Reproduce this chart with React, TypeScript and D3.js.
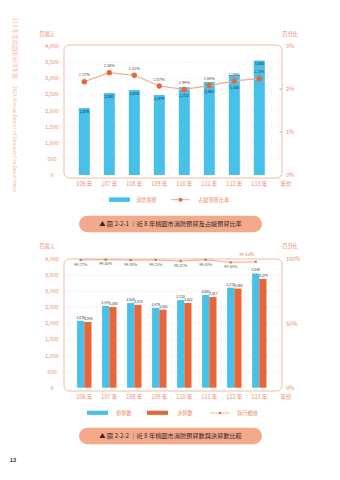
import React from "react";
import * as d3 from "d3";

const years = ["106 年", "107 年", "108 年", "109 年", "110 年", "111 年", "112 年", "113 年"];
const budget1 = [2076, 2541, 2634, 2479, 2722, 2883, 3100, 3550];
const share = [2.17, 2.38, 2.32, 2.07, 1.99, 2.08, 2.19, 2.24];
const budget2 = [2076, 2541, 2634, 2479, 2722, 2883, 3110, 3550];
const finals = [2042, 2508, 2570, 2425, 2632, 2817, 3080, 3379];
const execRate = [99.27, 99.5, 99.08, 99.23, 98.42, 99.43, 97.4, 97.82];
const leftTicks = [0, 500, 1000, 1500, 2000, 2500, 3000, 3500, 4000];
const gridTicks = [500, 1000, 1500, 2000, 2500, 3000, 3500];
const rightTicks1 = [0, 1, 2, 3];
const rightTicks2 = [0, 50, 100];

const FONT = "'Noto Sans CJK TC', 'Noto Sans', sans-serif";
const BLUE = "#47c1ea";
const ORANGE = "#e8673a";
const SALMON = "#ec8a6d";
const FRAME = "#f7b9a1";
const PILL = "#f4a98a";

const fmt = d3.format(",");

function Frame({ y0, y1 }: { y0: number; y1: number }) {
  return <rect x={64} y={y0} width={218} height={y1 - y0} rx={5} fill="none" stroke={FRAME} strokeWidth={1} />;
}

export default function App() {
  const x = d3.scaleBand().domain(years).range([71.8, 271.8]).padding(0);
  const cx = (d: string) => (x(d) as number) + x.bandwidth() / 2;

  // chart 1
  const y1 = d3.scaleLinear().domain([0, 4000]).range([175, 46]);
  const p1 = d3.scaleLinear().domain([0, 3]).range([175, 46]);
  const line1 = d3.line<number>().x((_, i) => cx(years[i])).y((d) => p1(d));
  const bw1 = 11;

  // chart 2
  const y2 = d3.scaleLinear().domain([0, 4000]).range([387.7, 259]);
  const p2 = d3.scaleLinear().domain([0, 100]).range([388, 259]);
  const bw2 = 7.2;
  const line2 = d3.line<number>().x((_, i) => cx(years[i]) - bw2 / 2).y((d) => p2(d));

  return (
    <svg width={340} height={480} style={{ position: "absolute", left: 0, top: 0, background: "#fff", fontFamily: FONT }} fontFamily={FONT}>
      <rect width={340} height={480} fill="#fff" />
      {/* side text */}
      <g transform="translate(12.5,18) rotate(90)" fill="#f6b8a2" fontFamily={FONT}>
        <text x={0} y={0} fontSize={5.6} fontFamily={FONT}>113 年度桃園市消防年報</text>
        <text x={68} y={0} fontSize={4.7} fontFamily="'Noto Sans', sans-serif">2024 Annual Report of Taoyuan Fire Department</text>
      </g>

      {/* ===== Chart 1 ===== */}
      <text x={47} y={36} fontSize={5.2} fill={SALMON} textAnchor="middle">百萬元</text>
      <text x={290} y={36} fontSize={5.2} fill={SALMON} textAnchor="middle">百分比</text>
      {gridTicks.map((t) => (
        <line key={"g1" + t} x1={66} x2={280} y1={y1(t)} y2={y1(t)} stroke="#c9c9c9" strokeWidth={0.7} strokeDasharray="0.8,3" />
      ))}
      <Frame y0={45} y1={178} />
      {leftTicks.map((t) => (
        <text key={"l1" + t} x={52} y={y1(t) + 2} fontSize={5.6} fill={SALMON} textAnchor="middle">{fmt(t)}</text>
      ))}
      {rightTicks1.map((t) => (
        <text key={"r1" + t} x={286} y={p1(t) + 2} fontSize={5.6} fill={SALMON}>{t}%</text>
      ))}
      {[1, 2].map((t) => (
        <line key={"bt" + t} x1={279.5} x2={282} y1={p1(t)} y2={p1(t)} stroke={BLUE} strokeWidth={0.8} />
      ))}
      {budget1.map((v, i) => (
        <rect key={"b1" + i} x={cx(years[i]) - bw1 / 2} y={y1(v)} width={bw1} height={y1(0) - y1(v)} fill={BLUE} />
      ))}
      <path d={line1(share) || ""} fill="none" stroke="#f3a88c" strokeWidth={1.2} />
      {share.map((v, i) => (
        <circle key={"c1" + i} cx={cx(years[i])} cy={p1(v)} r={2.7} fill={ORANGE} />
      ))}
      {budget1.map((v, i) => {
        const top = y1(v);
        const py = p1(share[i]);
        let c = top + 3.5;
        if (Math.abs(c - py) < 6) c = py + 6.5;
        return (
          <text key={"bl1" + i} x={cx(years[i])} y={c + 1.3} fontSize={3.8} fill="#24405a" textAnchor="middle" fontWeight={500}>
            {fmt(v)}
          </text>
        );
      })}
      {share.map((v, i) => (
        <text key={"pl1" + i} x={cx(years[i])} y={p1(v) - 6.5 + 1.3} fontSize={3.8} fill="#444" textAnchor="middle">
          {v.toFixed(2)}%
        </text>
      ))}
      {years.map((d) => (
        <text key={"x1" + d} x={cx(d)} y={186} fontSize={5.5} fill={SALMON} textAnchor="middle">{d}</text>
      ))}
      <text x={286} y={186} fontSize={5.5} fill={SALMON} textAnchor="middle">年份</text>

      {/* legend 1 */}
      <rect x={109} y={197.4} width={21} height={4.5} fill={BLUE} />
      <text x={136} y={201.6} fontSize={5.2} fill={SALMON}>消防預算</text>
      <line x1={171} x2={190} y1={199.7} y2={199.7} stroke="#f3a88c" strokeWidth={1} />
      <circle cx={180.5} cy={199.7} r={2} fill={ORANGE} />
      <text x={198} y={201.6} fontSize={5.2} fill={SALMON}>占總預算比率</text>

      {/* pill 1 */}
      <rect x={79} y={215.7} width={183} height={16.6} rx={8.3} fill={PILL} />
      <text x={170.5} y={226.3} fontSize={6.2} fill="#2b2b2b" textAnchor="middle">▲  圖 2-2-1 ｜近 8 年桃園市消防預算及占總預算比率</text>

      {/* ===== Chart 2 ===== */}
      <text x={47} y={248} fontSize={5.2} fill={SALMON} textAnchor="middle">百萬元</text>
      <text x={290} y={248} fontSize={5.2} fill={SALMON} textAnchor="middle">百分比</text>
      {gridTicks.map((t) => (
        <line key={"g2" + t} x1={66} x2={280} y1={y2(t)} y2={y2(t)} stroke="#c9c9c9" strokeWidth={0.7} strokeDasharray="0.8,3" />
      ))}
      <Frame y0={259} y1={391} />
      {leftTicks.map((t) => (
        <text key={"l2" + t} x={52} y={y2(t) + 2} fontSize={5.6} fill={SALMON} textAnchor="middle">{fmt(t)}</text>
      ))}
      {rightTicks2.map((t) => (
        <text key={"r2" + t} x={286} y={p2(t) + 2} fontSize={5.6} fill={SALMON}>{t}%</text>
      ))}
      {budget2.map((v, i) => (
        <rect key={"b2" + i} x={cx(years[i]) - bw2} y={y2(v)} width={bw2} height={y2(0) - y2(v)} fill={BLUE} />
      ))}
      {finals.map((v, i) => (
        <rect key={"f2" + i} x={cx(years[i])} y={y2(v)} width={bw2} height={y2(0) - y2(v)} fill={ORANGE} />
      ))}
      {budget2.map((v, i) => (
        <text key={"bl2" + i} x={cx(years[i]) - bw2 / 2} y={y2(v) - 2} fontSize={3.3} fill="#333" textAnchor="middle">{fmt(v)}</text>
      ))}
      {finals.map((v, i) => (
        <text key={"fl2" + i} x={cx(years[i]) + bw2 / 2 + 0.5} y={y2(v) - 2} fontSize={3.3} fill="#333" textAnchor="middle">{fmt(v)}</text>
      ))}
      <path d={line2(execRate) || ""} fill="none" stroke="#f08f6e" strokeWidth={0.8} />
      {execRate.map((v, i) => (
        <rect key={"c2" + i} x={cx(years[i]) - bw2 / 2 - 1.1} y={p2(v) - 1.1} width={2.2} height={2.2} fill={ORANGE} />
      ))}
      {execRate.map((v, i) =>
        i === execRate.length - 1 ? (
          <text key={"pl2" + i} x={cx(years[i]) - bw2 / 2 - 9} y={p2(v) - 6} fontSize={4.2} fill={ORANGE} textAnchor="middle">
            {v.toFixed(2)}%
          </text>
        ) : (
          <text key={"pl2" + i} x={cx(years[i]) - bw2 / 2} y={p2(v) + 5.8} fontSize={3.8} fill="#555" textAnchor="middle">
            {v.toFixed(2)}%
          </text>
        )
      )}
      {years.map((d) => (
        <text key={"x2" + d} x={cx(d)} y={399} fontSize={5.5} fill={SALMON} textAnchor="middle">{d}</text>
      ))}
      <text x={286} y={399} fontSize={5.5} fill={SALMON} textAnchor="middle">年份</text>

      {/* legend 2 */}
      <rect x={87} y={410.7} width={21} height={4.2} fill={BLUE} />
      <text x={116} y={414.8} fontSize={5.2} fill={SALMON}>預算數</text>
      <rect x={147} y={410.7} width={21} height={4.2} fill={ORANGE} />
      <text x={177} y={414.8} fontSize={5.2} fill={SALMON}>決算數</text>
      <line x1={210} x2={230} y1={413} y2={413} stroke="#f08f6e" strokeWidth={0.7} />
      <rect x={219} y={412} width={2} height={2} fill={ORANGE} />
      <text x={237} y={414.8} fontSize={5.2} fill={SALMON}>執行績效</text>

      {/* pill 2 */}
      <rect x={79} y={427.7} width={183} height={16.6} rx={8.3} fill={PILL} />
      <text x={170.5} y={438.3} fontSize={6.2} fill="#2b2b2b" textAnchor="middle">▲  圖 2-2-2 ｜近 8 年桃園市消防預算數與決算數比較</text>

      <text x={13} y={462} fontSize={5.5} fill="#333" fontWeight={700} textAnchor="middle">13</text>
    </svg>
  );
}
